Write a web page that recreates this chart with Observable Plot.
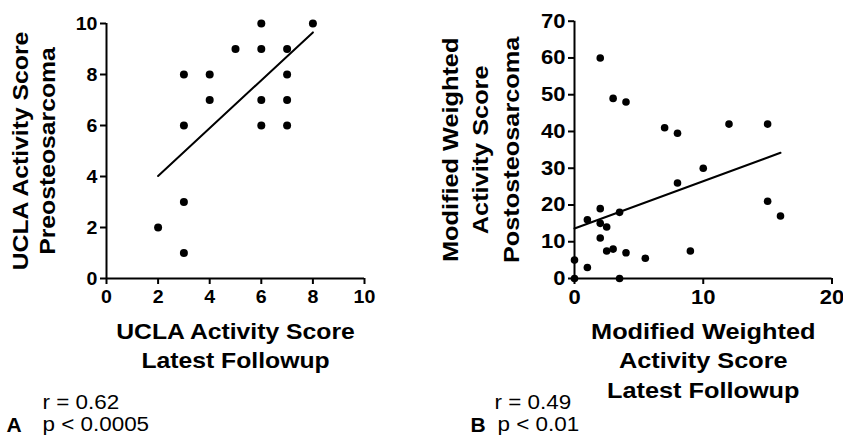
<!DOCTYPE html>
<html>
<head>
<meta charset="utf-8">
<script src="https://cdn.jsdelivr.net/npm/d3@7"></script>
<script src="https://cdn.jsdelivr.net/npm/@observablehq/plot@0.6"></script>
<style>
  html, body { margin: 0; padding: 0; background: #fff; }
  #chart { position: relative; width: 843px; height: 439px; overflow: hidden; background: #fff; }
  #chart svg { position: absolute; top: 0; }
</style>
</head>
<body>
<div id="chart"></div>
<script>
// ---- Panel A data: UCLA activity score ----
const aLatest = [2, 3, 3, 3, 3, 4, 4, 5, 6, 6, 6, 6, 7, 7, 7, 7, 8];
const aPre    = [2, 1, 3, 6, 8, 8, 7, 9, 10, 9, 7, 6, 9, 8, 7, 6, 10];
const aFitX = [2, 8];
const aFitY = [4.02, 9.65];
const aTicksX = [0, 2, 4, 6, 8, 10];
const aTicksY = [0, 2, 4, 6, 8, 10];
const aXTitle = ["UCLA Activity Score", "Latest Followup"];
const aYTitle = ["UCLA Activity Score", "Preosteosarcoma"];
const aStats = ["r = 0.62", "p < 0.0005"];

// ---- Panel B data: modified weighted activity score ----
const bLatest = [2, 3, 4, 7, 8, 12, 15, 10, 8, 15, 16, 2, 1, 2, 2.5, 3.5, 2, 2.5, 3, 4, 5.5, 9, 0, 1, 0, 3.5];
const bPost   = [60, 49, 48, 41, 39.5, 42, 42, 30, 26, 21, 17, 19, 16, 15, 14, 18, 11, 7.5, 8, 7, 5.5, 7.5, 5, 3, 0, 0];
const bFitX = [0, 16];
const bFitY = [13.6, 34.2];
const bTicksX = [0, 10, 20];
const bTicksY = [0, 10, 20, 30, 40, 50, 60, 70];
const bXTitle = ["Modified Weighted", "Activity Score", "Latest Followup"];
const bYTitle = ["Modified Weighted", "Activity Score", "Postosteosarcoma"];
const bStats = ["r = 0.49", "p < 0.01"];

const panelLabels = ["A", "B"];

const FONT = "'Liberation Sans', Arial, Helvetica, sans-serif";
const pts = (xs, ys) => xs.map((x, i) => ({x, y: ys[i]}));

function titleX(lines, dy0, step, size) {
  return lines.map((s, i) => Plot.text([s], {
    frameAnchor: "bottom", lineAnchor: "bottom", textAnchor: "middle",
    dy: dy0 + i * step, fontSize: size, fontWeight: "bold", fill: "black"
  }));
}
function titleY(lines, dxs, size) {
  return lines.map((s, i) => Plot.text([s], {
    frameAnchor: "left", lineAnchor: "bottom", textAnchor: "middle", rotate: -90,
    dx: dxs[i], fontSize: size, fontWeight: "bold", fill: "black"
  }));
}
function stats(lines, label, dxText, dxP, dxLabel) {
  return [
    Plot.text([lines[0]], {frameAnchor: "bottom-left", lineAnchor: "bottom", textAnchor: "start",
      dx: dxText, dy: 130, fontSize: 19.5, fill: "black"}),
    Plot.text([lines[1]], {frameAnchor: "bottom-left", lineAnchor: "bottom", textAnchor: "start",
      dx: dxP, dy: 152, fontSize: 19.5, fill: "black"}),
    Plot.text([label], {frameAnchor: "bottom-left", lineAnchor: "bottom", textAnchor: "start",
      dx: dxLabel, dy: 153, fontSize: 21, fontWeight: "bold", fill: "black"})
  ];
}
// axes drawn with ordinary marks so the styling is fully controlled
function axisMarks(ticksX, ticksY, tickFont) {
  return [
    Plot.ruleX(ticksX, {x: d => d, y1: 0, y2: 0, insetBottom: -6, stroke: "black", strokeWidth: 2}),
    Plot.ruleY(ticksY, {y: d => d, x1: 0, x2: 0, insetLeft: -6, stroke: "black", strokeWidth: 2}),
    Plot.ruleY([0], {stroke: "black", strokeWidth: 2}),
    Plot.ruleX([0], {stroke: "black", strokeWidth: 2}),
    Plot.text(ticksX, {x: d => d, text: d => String(d), frameAnchor: "bottom", lineAnchor: "top",
      textAnchor: "middle", dy: 11, fontSize: tickFont, fontWeight: "bold", fill: "black"}),
    Plot.text(ticksY, {y: d => d, text: d => String(d), frameAnchor: "left", lineAnchor: "middle",
      textAnchor: "end", dx: -9, fontSize: tickFont, fontWeight: "bold", fill: "black"})
  ];
}

function makePanel(opts) {
  return Plot.plot({
    width: opts.width, height: 439,
    marginLeft: opts.marginLeft, marginRight: opts.marginRight, marginTop: opts.marginTop, marginBottom: 161,
    style: {fontFamily: FONT, color: "black", background: "white", overflow: "visible"},
    x: {domain: opts.xDomain, axis: null},
    y: {domain: opts.yDomain, axis: null},
    marks: [
      ...axisMarks(opts.ticksX, opts.ticksY, opts.tickFont),
      Plot.line(pts(opts.fitX, opts.fitY), {x: "x", y: "y", stroke: "black", strokeWidth: 2}),
      Plot.dot(pts(opts.xs, opts.ys), {x: "x", y: "y", r: opts.r, fill: "black"}),
      ...titleX(opts.xTitle, 60, opts.xStep, opts.titleSize),
      ...titleY(opts.yTitle, opts.yDx, opts.titleSize),
      ...stats(opts.stats, opts.label, ...opts.statsDx)
    ]
  });
}

const plotA = makePanel({
  width: 430, marginLeft: 106, marginRight: 66, marginTop: 23,
  xDomain: [0, 10], yDomain: [0, 10], ticksX: aTicksX, ticksY: aTicksY, tickFont: 19,
  fitX: aFitX, fitY: aFitY, xs: aLatest, ys: aPre, r: 4,
  xTitle: aXTitle, xStep: 29, yTitle: aYTitle, yDx: [-79, -51.5], titleSize: 21.5,
  stats: aStats, label: panelLabels[0], statsDx: [-64, -64, -100]
});
const plotB = makePanel({
  width: 413, marginLeft: 144, marginRight: 11.5, marginTop: 20.7,
  xDomain: [0, 20], yDomain: [0, 70], ticksX: bTicksX, ticksY: bTicksY, tickFont: 20,
  fitX: bFitX, fitY: bFitY, xs: bLatest, ys: bPost, r: 3.8,
  xTitle: bXTitle, xStep: 29.5, yTitle: bYTitle, yDx: [-117, -86.5, -56], titleSize: 22,
  stats: bStats, label: panelLabels[1], statsDx: [-80, -77, -104]
});

const chart = document.getElementById("chart");
plotA.style.left = "0px";
plotB.style.left = "430px";
chart.appendChild(plotA);
chart.appendChild(plotB);

// Styling pass: the reference typeface is wider than Liberation Sans.
const wideSet = new Set([...aXTitle, ...aYTitle, ...bXTitle, ...bYTitle, ...aStats, ...bStats]);
function widen(t, factor) {
  const len = t.getComputedTextLength();
  t.setAttribute("textLength", (len * factor).toFixed(1));
  t.setAttribute("lengthAdjust", "spacingAndGlyphs");
}
[[plotA, aTicksX.concat(aTicksY), 1.03], [plotB, bTicksX.concat(bTicksY), 1.1]].forEach(([svg, ticks, tickWiden]) => {
  const tickSet = new Set(ticks.map(String));
  svg.querySelectorAll("text").forEach(t => {
    const s = t.textContent;
    if (wideSet.has(s)) widen(t, 1.15);
    else if (tickSet.has(s)) widen(t, tickWiden);
  });
});
</script>
</body>
</html>
